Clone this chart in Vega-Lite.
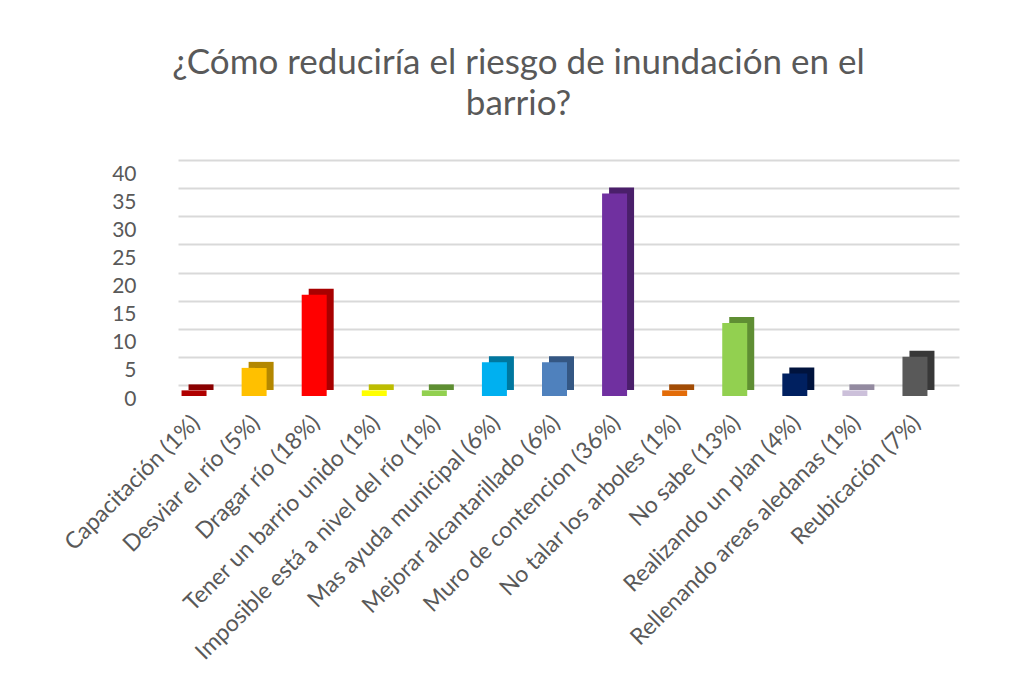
{
  "$schema": "https://vega.github.io/schema/vega-lite/v6.json",
  "autosize": "none",
  "width": 781,
  "height": 225,
  "padding": {"left": 178, "top": 160, "right": 54, "bottom": 297},
  "background": "white",
  "title": {
    "text": ["¿Cómo reduciría el riesgo de inundación en el", "barrio?"],
    "font": "Lato",
    "fontSize": 35,
    "fontWeight": "normal",
    "color": "#595959",
    "anchor": "middle",
    "dx": -50,
    "offset": 38,
    "lineHeight": 41
  },
  "config": {"view": {"stroke": null}},
  "data": {
    "values": [
      {"respuesta": "Capacitación (1%)", "n": 1},
      {"respuesta": "Desviar el río (5%)", "n": 5},
      {"respuesta": "Dragar río (18%)", "n": 18},
      {"respuesta": "Tener un barrio unido (1%)", "n": 1},
      {"respuesta": "Imposible está a nivel del río (1%)", "n": 1},
      {"respuesta": "Mas ayuda municipal (6%)", "n": 6},
      {"respuesta": "Mejorar alcantarillado (6%)", "n": 6},
      {"respuesta": "Muro de contencion (36%)", "n": 36},
      {"respuesta": "No talar los arboles (1%)", "n": 1},
      {"respuesta": "No sabe (13%)", "n": 13},
      {"respuesta": "Realizando un plan (4%)", "n": 4},
      {"respuesta": "Rellenando areas aledanas (1%)", "n": 1},
      {"respuesta": "Reubicación (7%)", "n": 7}
    ]
  },
  "encoding": {
    "x": {
      "field": "respuesta",
      "type": "nominal",
      "sort": null,
      "title": null,
      "scale": {"paddingInner": 0.584, "paddingOuter": 0.292},
      "axis": {
        "labelAngle": -45,
        "labelAlign": "right",
        "labelBaseline": "middle",
        "labelFont": "Lato",
        "labelFontSize": 23,
        "labelColor": "#595959",
        "labelOffset": -12,
        "labelPadding": 34,
        "labelLimit": 500,
        "domain": false,
        "ticks": false
      }
    },
    "y": {
      "field": "n",
      "type": "quantitative",
      "title": null,
      "scale": {"domain": [0, 40], "nice": false},
      "axis": {
        "values": [0, 5, 10, 15, 20, 25, 30, 35, 40],
        "labelFont": "Lato",
        "labelFontSize": 21,
        "labelColor": "#595959",
        "labelOffset": 14,
        "labelPadding": 42,
        "domain": false,
        "ticks": false,
        "gridColor": "#D9D9D9",
        "gridWidth": 2
      }
    }
  },
  "layer": [
    {
      "mark": {"type": "bar", "xOffset": -7, "yOffset": 5},
      "encoding": {
        "color": {
          "field": "respuesta",
          "type": "nominal",
          "sort": null,
          "legend": null,
          "scale": {
            "range": ["#8A0000", "#B38700", "#A80000", "#BDBD00", "#5E8E32", "#00779F", "#345783", "#4A1F6A", "#A24C05", "#5F8E33", "#00133D", "#938AA0", "#383838"]
          }
        }
      }
    },
    {
      "mark": {"type": "bar", "xOffset": -14, "yOffset": 11},
      "encoding": {
        "color": {
          "field": "respuesta",
          "type": "nominal",
          "sort": null,
          "legend": null,
          "scale": {
            "range": ["#B00000", "#FFC000", "#FF0000", "#FFFF00", "#92D050", "#00B0F0", "#4F81BD", "#7030A0", "#E36C09", "#92D050", "#002060", "#CCC0DA", "#595959"]
          }
        }
      }
    }
  ],
  "resolve": {"scale": {"color": "independent"}}
}
